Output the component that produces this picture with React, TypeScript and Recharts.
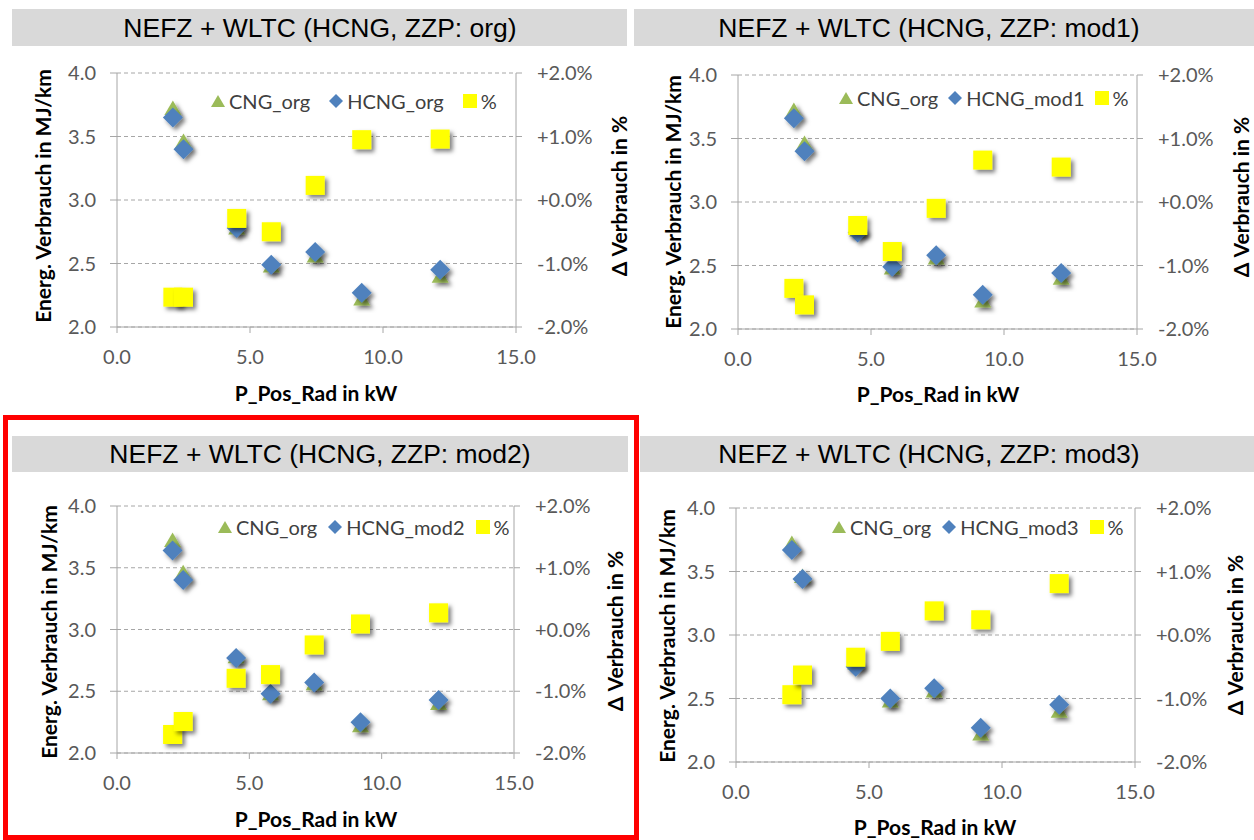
import React from 'react';
import { ScatterChart, Scatter, XAxis, YAxis, CartesianGrid, Legend } from 'recharts';

// ---- data ----
const xPower = [2.1, 2.5, 4.5, 5.8, 7.45, 9.2, 12.15];
const cngOrg = [3.72, 3.46, 2.78, 2.48, 2.56, 2.22, 2.4];
const hcngOrg = [3.65, 3.4, 2.78, 2.49, 2.59, 2.27, 2.45];
const hcngMod1 = [3.66, 3.4, 2.76, 2.49, 2.58, 2.27, 2.44];
const hcngMod2 = [3.64, 3.4, 2.77, 2.48, 2.57, 2.25, 2.43];
const hcngMod3 = [3.67, 3.44, 2.75, 2.5, 2.58, 2.27, 2.45];
const pctOrg = [-1.53, -1.53, -0.29, -0.5, 0.23, 0.95, 0.96];
const pctMod1 = [-1.36, -1.62, -0.37, -0.78, -0.1, 0.66, 0.55];
const pctMod2 = [-1.7, -1.49, -0.79, -0.73, -0.25, 0.09, 0.27];
const pctMod3 = [-0.94, -0.63, -0.35, -0.1, 0.38, 0.24, 0.81];
const hcngLabels = ['HCNG_org', 'HCNG_mod1', 'HCNG_mod2', 'HCNG_mod3'];
const panelTitles = [
  'NEFZ + WLTC (HCNG, ZZP: org)',
  'NEFZ + WLTC (HCNG, ZZP: mod1)',
  'NEFZ + WLTC (HCNG, ZZP: mod2)',
  'NEFZ + WLTC (HCNG, ZZP: mod3)',
];
const xTicks = [0, 5, 10, 15];
const leftTicks = [2, 2.5, 3, 3.5, 4];
const rightTicks = [-2, -1, 0, 1, 2];
const cngLabel = 'CNG_org';
const pctLabel = '%';
const leftAxisTitle = 'Energ. Verbrauch in MJ/km';
const rightAxisTitle = 'Δ Verbrauch in %';
const xAxisTitle = 'P_Pos_Rad in kW';

const hcngSeries = [hcngOrg, hcngMod1, hcngMod2, hcngMod3];
const pctSeries = [pctOrg, pctMod1, pctMod2, pctMod3];

// ---- layout ----
const layouts = [
  { px: 0, py: 50, w: 630, h: 370, plot: { l: 117, r: 516, t: 73, b: 327 }, bar: { l: 12, r: 627, t: 9, b: 46 }, titleX: 320, leftT: [42, 196], rightT: [618, 196], xT: [316, 392], legend: { x: 211, y: 101, gap: 19 } },
  { px: 630, py: 50, w: 624, h: 370, plot: { l: 738, r: 1137, t: 75, b: 329 }, bar: { l: 634, r: 1254, t: 9, b: 46 }, titleX: 929, leftT: [672, 202], rightT: [1240, 197], xT: [938, 393], legend: { x: 839, y: 98, gap: 10 } },
  { px: 0, py: 470, w: 630, h: 370, plot: { l: 117, r: 514, t: 506, b: 753 }, bar: { l: 12, r: 628, t: 436, b: 472 }, titleX: 320, leftT: [48, 632], rightT: [614, 631], xT: [316, 818], legend: { x: 218, y: 527, gap: 11 } },
  { px: 630, py: 470, w: 624, h: 370, plot: { l: 736, r: 1135, t: 508, b: 762 }, bar: { l: 640, r: 1254, t: 436, b: 472 }, titleX: 929, leftT: [666, 636], rightT: [1234, 635], xT: [935, 826], legend: { x: 832, y: 527, gap: 11 } },
];

const GREEN = '#9BBB59';
const BLUE = '#4F81BD';
const YELLOW = '#FFFF00';
const AXIS = '#A6A6A6';
const TICK_FONT = 'Lato, "Open Sans", sans-serif';
const legendOrder = ['triangle', 'diamond', 'square'];

const Tri = (p: any) => (
  <polygon
    points={`${p.cx},${p.cy - 8} ${p.cx + 8.5},${p.cy + 6.5} ${p.cx - 8.5},${p.cy + 6.5}`}
    fill={GREEN}
    filter="url(#mshadow)"
  />
);
const Dia = (p: any) => (
  <polygon
    points={`${p.cx},${p.cy - 10} ${p.cx + 10},${p.cy} ${p.cx},${p.cy + 10} ${p.cx - 10},${p.cy}`}
    fill={BLUE}
    filter="url(#mshadow)"
  />
);
const Sq = (p: any) => (
  <rect x={p.cx - 9.5} y={p.cy - 9.5} width={19} height={19} fill={YELLOW} filter="url(#mshadow)" />
);

const legendIcon = (type: string, color: string) => {
  if (type === 'triangle') return <polygon points="7,1 14,13 0,13" fill={color} />;
  if (type === 'diamond') return <polygon points="7,0 14,7 7,14 0,7" fill={color} />;
  return <rect x={0} y={0} width={14} height={14} fill={color} />;
};

const makeLegend = (gap: number) => (props: any) => {
  const payload = [...(props.payload || [])].sort(
    (a: any, b: any) => legendOrder.indexOf(a.type) - legendOrder.indexOf(b.type)
  );
  return (
    <div style={{ display: 'flex', alignItems: 'center', fontFamily: TICK_FONT, fontSize: 20, color: '#404040', whiteSpace: 'nowrap', lineHeight: '24px' }}>
      {payload.map((p: any, i: number) => (
        <div key={i} style={{ display: 'flex', alignItems: 'center', marginRight: i < payload.length - 1 ? gap : 0 }}>
          <svg width={14} height={14} style={{ display: 'block' }}>{legendIcon(p.type, p.color)}</svg>
          <span style={{ marginLeft: 4 }}>{p.value}</span>
        </div>
      ))}
    </div>
  );
};

const fmt1 = (v: number) => v.toFixed(1);
const fmtPct = (v: number) => (v >= 0 ? '+' : '') + v.toFixed(1) + '%';

function Panel({ idx }: { idx: number }) {
  const L = layouts[idx];
  const margin = {
    left: L.plot.l - L.px - 60,
    right: L.px + L.w - L.plot.r - 60,
    top: L.plot.t - L.py,
    bottom: L.py + L.h - L.plot.b - 30,
  };
  const cngData = xPower.map((x, i) => ({ x, y: cngOrg[i] }));
  const hcngData = xPower.map((x, i) => ({ x, y: hcngSeries[idx][i] }));
  const pctData = xPower.map((x, i) => ({ x, y: pctSeries[idx][i] }));
  const tick = { fontFamily: TICK_FONT, fontSize: 20, fill: '#595959' };
  const titleStyle: React.CSSProperties = {
    position: 'absolute',
    fontFamily: TICK_FONT,
    fontWeight: 700,
    fontSize: 21,
    color: '#000',
    whiteSpace: 'nowrap',
    transformOrigin: 'center',
  };
  return (
    <>
      <div style={{ position: 'absolute', left: L.bar.l, top: L.bar.t, width: L.bar.r - L.bar.l, height: L.bar.b - L.bar.t, background: '#D9D9D9' }} />
      <div style={{ position: 'absolute', left: L.titleX, top: (L.bar.t + L.bar.b) / 2, transform: 'translate(-50%, -50%)', fontFamily: '"Liberation Sans", Arial, sans-serif', fontSize: 26.5, color: '#000', whiteSpace: 'nowrap' }}>
        {panelTitles[idx]}
      </div>
      <div style={{ position: 'absolute', left: L.px, top: L.py, width: L.w, height: L.h }}>
        <ScatterChart width={L.w} height={L.h} margin={margin}>
          <CartesianGrid yAxisId="l" horizontal vertical={false} stroke={AXIS} strokeDasharray="4 3" />
          <XAxis
            dataKey="x"
            type="number"
            domain={[0, 15]}
            ticks={xTicks}
            tickFormatter={fmt1}
            height={30}
            tickSize={6}
            tickMargin={17}
            axisLine={{ stroke: AXIS }}
            tickLine={{ stroke: AXIS }}
            tick={tick}
            interval={0}
          />
          <YAxis
            yAxisId="l"
            dataKey="y"
            type="number"
            orientation="left"
            domain={[2, 4]}
            ticks={leftTicks}
            tickFormatter={fmt1}
            width={60}
            tickSize={7}
            tickMargin={14}
            axisLine={{ stroke: AXIS }}
            tickLine={{ stroke: AXIS }}
            tick={tick}
            interval={0}
          />
          <YAxis
            yAxisId="r"
            dataKey="y"
            type="number"
            orientation="right"
            domain={[-2, 2]}
            ticks={rightTicks}
            tickFormatter={fmtPct}
            width={60}
            tickSize={6}
            tickMargin={15}
            axisLine={{ stroke: AXIS }}
            tickLine={{ stroke: AXIS }}
            tick={tick}
            interval={0}
          />
          <Legend
            layout="horizontal"
            verticalAlign="middle"
            align="center"
            itemSorter={null as any}
            content={makeLegend(L.legend.gap)}
            wrapperStyle={{ left: L.legend.x - L.px, top: L.legend.y - L.py - 12, width: 'auto', height: 24 }}
          />
          <Scatter name={cngLabel} data={cngData} yAxisId="l" fill={GREEN} legendType="triangle" shape={Tri} isAnimationActive={false} />
          <Scatter name={hcngLabels[idx]} data={hcngData} yAxisId="l" fill={BLUE} legendType="diamond" shape={Dia} isAnimationActive={false} />
          <Scatter name={pctLabel} data={pctData} yAxisId="r" fill={YELLOW} legendType="square" shape={Sq} isAnimationActive={false} />
        </ScatterChart>
      </div>
      <div style={{ ...titleStyle, left: L.leftT[0], top: L.leftT[1], transform: 'translate(-50%, -50%) rotate(-90deg)' }}>{leftAxisTitle}</div>
      <div style={{ ...titleStyle, left: L.rightT[0], top: L.rightT[1], transform: 'translate(-50%, -50%) rotate(-90deg)' }}>{rightAxisTitle}</div>
      <div style={{ ...titleStyle, left: L.xT[0], top: L.xT[1], transform: 'translate(-50%, -50%)' }}>{xAxisTitle}</div>
    </>
  );
}

export default function App() {
  return (
    <div style={{ position: 'absolute', left: 0, top: 0, width: 1254, height: 840, background: '#fff', overflow: 'hidden' }}>
      <svg width={0} height={0} style={{ position: 'absolute' }}>
        <defs>
          <filter id="mshadow" x="-50%" y="-50%" width="200%" height="200%">
            <feDropShadow dx={3} dy={3} stdDeviation={2} floodColor="#000" floodOpacity={0.5} />
          </filter>
        </defs>
      </svg>
      {[0, 1, 2, 3].map((i) => (
        <Panel key={i} idx={i} />
      ))}
      <div style={{ position: 'absolute', left: 3, top: 415, width: 636, height: 425, border: '5px solid #FF0000', boxSizing: 'border-box' }} />
    </div>
  );
}
